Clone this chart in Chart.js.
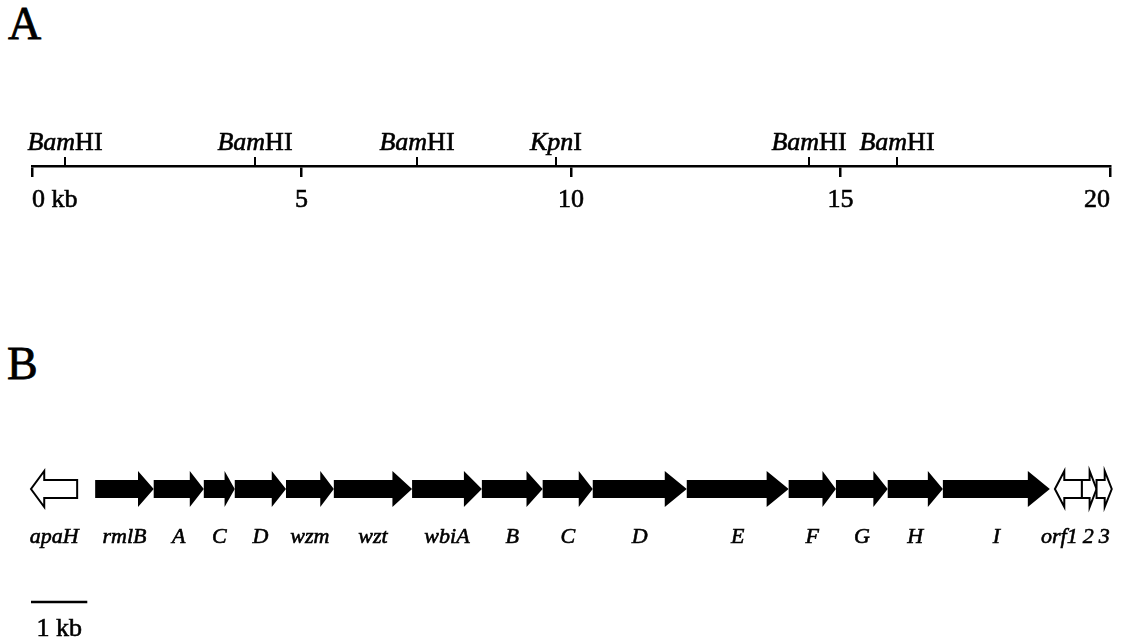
<!DOCTYPE html>
<html><head><meta charset="utf-8">
<script src="https://cdn.jsdelivr.net/npm/chart.js@4"></script>
<style>
html,body{margin:0;padding:0;background:#fff;width:1126px;height:638px;overflow:hidden;}
.panel{position:absolute;font-family:"Liberation Serif","Times New Roman",serif;font-size:46px;color:#000;line-height:1;-webkit-text-stroke:0.8px #000;}
#wa{position:absolute;left:0;top:0;width:1126px;height:226px;}
#wb{position:absolute;left:0;top:226px;width:1126px;height:412px;}
</style></head><body>
<div class="panel" style="left:8px;top:1px">A</div>
<div class="panel" style="left:7px;top:341px">B</div>
<div id="wa"><canvas id="ca" width="1126" height="226"></canvas></div>
<div id="wb"><canvas id="cb" width="1126" height="412"></canvas></div>
<script>
// ---- Panel A: restriction map (kb) ----
const mapTicks = [0, 5, 10, 15, 20];
const mapTickLabels = ['0 kb', '5', '10', '15', '20'];
const siteEnzymes = ['BamHI', 'BamHI', 'BamHI', 'KpnI', 'BamHI', 'BamHI'];
const sitePositions = [0.61, 4.14, 7.15, 9.72, 14.42, 16.05];

// ---- Panel B: gene cluster (kb) ----
const geneNames  = ['apaH','rmlB','A','C','D','wzm','wzt','wbiA','B','C','D','E','F','G','H','I','orf1','2','3'];
const geneStarts = [0.00, 1.14, 2.18, 3.07, 3.62, 4.53, 5.38, 6.77, 8.01, 9.09, 9.98, 11.65, 13.46, 14.30, 15.22, 16.20, 18.19, 18.67, 18.93];
const geneEnds   = [0.82, 2.18, 3.07, 3.62, 4.53, 5.38, 6.77, 8.01, 9.09, 9.98, 11.65, 13.46, 14.30, 15.22, 16.20, 18.10, 18.67, 18.93, 19.20];
const geneStrand = [-1, 1, 1, 1, 1, 1, 1, 1, 1, 1, 1, 1, 1, 1, 1, 1, -1, 1, 1];
const geneInCluster = [false, true, true, true, true, true, true, true, true, true, true, true, true, true, true, true, false, false, false];
const scaleBarKb = 1;
const scaleBarLabel = '1 kb';

const SERIF = '"Liberation Serif","Times New Roman",serif';
const TEXT_STROKE = 0.6;

function inkText(ctx, s, x, y) {
  ctx.fillText(s, x, y);
  ctx.lineWidth = TEXT_STROKE;
  ctx.strokeStyle = '#000';
  ctx.strokeText(s, x, y);
}

// plugin for restriction sites
const sitePlugin = {
  id: 'sites',
  afterDraw(chart) {
    const ctx = chart.ctx, xs = chart.scales.x;
    const axisY = chart.chartArea.bottom;
    ctx.save();
    ctx.fillStyle = '#000';
    ctx.textBaseline = 'alphabetic';
    sitePositions.forEach((p, i) => {
      const x = Math.round(xs.getPixelForValue(p));
      ctx.strokeStyle = '#000';
      ctx.lineWidth = 2;
      ctx.beginPath();
      ctx.moveTo(x, axisY);
      ctx.lineTo(x, axisY - 9);
      ctx.stroke();
      const name = siteEnzymes[i];
      const it = name.slice(0, 3), rm = name.slice(3);
      ctx.font = 'italic 26px ' + SERIF;
      const w1 = ctx.measureText(it).width;
      ctx.font = '26px ' + SERIF;
      const w2 = ctx.measureText(rm).width;
      const x0 = x - (w1 + w2) / 2;
      ctx.textAlign = 'left';
      ctx.font = 'italic 26px ' + SERIF;
      inkText(ctx, it, x0, axisY - 16);
      ctx.font = '26px ' + SERIF;
      inkText(ctx, rm, x0 + w1, axisY - 16);
    });
    ctx.restore();
  }
};

new Chart(document.getElementById('ca'), {
  type: 'scatter',
  data: { datasets: [{ data: sitePositions.map(p => ({ x: p, y: 0 })), pointRadius: 0 }] },
  options: {
    responsive: false, animation: false, devicePixelRatio: 1, events: [],
    layout: { padding: { left: 32, right: 16, top: 0, bottom: 0 } },
    plugins: { legend: { display: false }, tooltip: { enabled: false } },
    scales: {
      x: {
        type: 'linear', min: 0, max: 20,
        afterBuildTicks: s => { s.ticks = mapTicks.map(v => ({ value: v })); },
        afterFit: s => { s.height = 60; },
        border: { display: true, color: '#000', width: 2.5 },
        grid: { drawOnChartArea: false, drawTicks: true, tickLength: 11, color: '#000', lineWidth: 2.5 },
        ticks: {
          autoSkip: false, maxRotation: 0, align: 'inner', padding: 8, color: '#000',
          textStrokeColor: '#000', textStrokeWidth: TEXT_STROKE,
          font: { family: SERIF, size: 26 },
          callback: (v) => mapTickLabels[mapTicks.indexOf(v)]
        }
      },
      y: { display: false, min: 0, max: 1 }
    }
  },
  plugins: [sitePlugin]
});

// plugin for gene arrows
const arrowPlugin = {
  id: 'arrows',
  afterDatasetsDraw(chart) {
    const ctx = chart.ctx;
    const meta = chart.getDatasetMeta(0);
    ctx.save();
    const labelPos = [];
    meta.data.forEach((el, i) => {
      const L = Math.min(el.base, el.x), R = Math.max(el.base, el.x);
      const yc = el.y, bh = el.height / 2, hh = 18;
      const len = R - L;
      const head = Math.min(22, 0.2 * len + 4);
      ctx.beginPath();
      if (geneStrand[i] > 0) {
        ctx.moveTo(L, yc - bh);
        ctx.lineTo(R - head, yc - bh);
        ctx.lineTo(R - head, yc - hh);
        ctx.lineTo(R, yc);
        ctx.lineTo(R - head, yc + hh);
        ctx.lineTo(R - head, yc + bh);
        ctx.lineTo(L, yc + bh);
      } else {
        ctx.moveTo(R, yc - bh);
        ctx.lineTo(L + head, yc - bh);
        ctx.lineTo(L + head, yc - hh);
        ctx.lineTo(L, yc);
        ctx.lineTo(L + head, yc + hh);
        ctx.lineTo(L + head, yc + bh);
        ctx.lineTo(R, yc + bh);
      }
      ctx.closePath();
      if (geneInCluster[i]) {
        ctx.fillStyle = '#000';
        ctx.fill();
      } else {
        ctx.fillStyle = '#fff';
        ctx.fill();
        ctx.strokeStyle = '#000';
        ctx.lineWidth = 2;
        ctx.lineJoin = 'miter';
        ctx.stroke();
      }
      labelPos.push({ c: (L + R) / 2, y: yc + 54 });
    });
    // labels, nudged left where they would collide with the next one
    ctx.font = 'italic 22px ' + SERIF;
    const widths = geneNames.map(n => ctx.measureText(n).width);
    const cx = labelPos.map(p => p.c);
    for (let i = cx.length - 2; i >= 0; i--) {
      const rightEdge = cx[i] + widths[i] / 2;
      const nextLeft = cx[i + 1] - widths[i + 1] / 2 - 5;
      if (rightEdge > nextLeft) cx[i] -= (rightEdge - nextLeft);
    }
    ctx.fillStyle = '#000';
    ctx.textAlign = 'center';
    ctx.textBaseline = 'alphabetic';
    labelPos.forEach((p, i) => inkText(ctx, geneNames[i], cx[i], p.y));

    // scale bar
    const xs = chart.scales.x;
    const y0 = meta.data[0].y + 113;
    const xa = xs.getPixelForValue(0), xb = xs.getPixelForValue(scaleBarKb);
    ctx.strokeStyle = '#000';
    ctx.lineWidth = 2.5;
    ctx.beginPath();
    ctx.moveTo(xa, y0);
    ctx.lineTo(xb, y0);
    ctx.stroke();
    ctx.font = '26px ' + SERIF;
    ctx.textAlign = 'center';
    inkText(ctx, scaleBarLabel, (xa + xb) / 2, y0 + 34);
    ctx.restore();
  }
};

new Chart(document.getElementById('cb'), {
  type: 'bar',
  data: {
    labels: ['cluster'],
    datasets: [{
      data: geneStarts.map((s, i) => ({ x: [s, geneEnds[i]], y: 'cluster' })),
      backgroundColor: 'rgba(0,0,0,0)', borderWidth: 0, barThickness: 18
    }]
  },
  options: {
    indexAxis: 'y',
    responsive: false, animation: false, devicePixelRatio: 1, events: [],
    layout: { padding: { left: 31, right: 3, top: 114, bottom: 0 } },
    plugins: { legend: { display: false }, tooltip: { enabled: false } },
    scales: {
      x: { type: 'linear', display: false, min: 0, max: 19.4 },
      y: { type: 'category', display: false }
    }
  },
  plugins: [arrowPlugin]
});
</script>
</body></html>
